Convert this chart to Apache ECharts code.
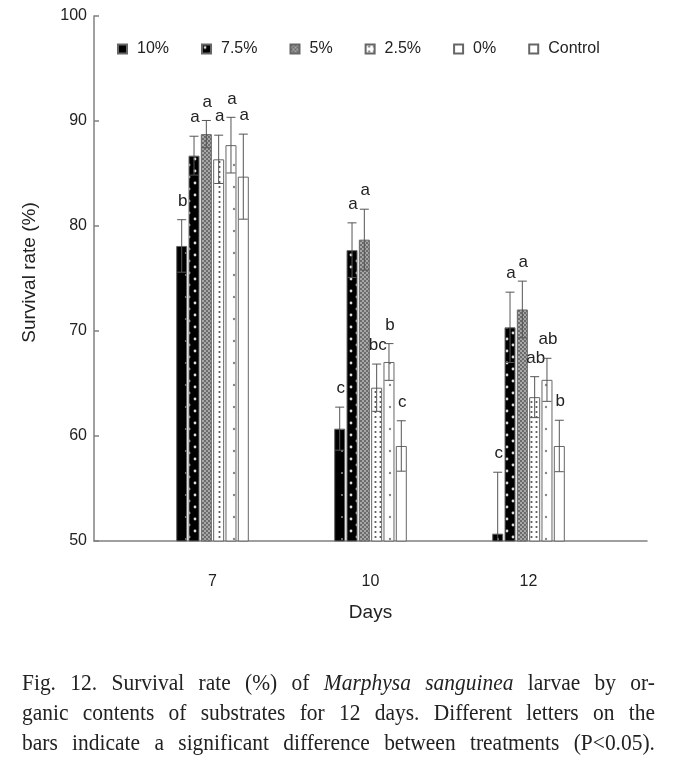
<!DOCTYPE html>
<html>
<head>
<meta charset="utf-8">
<script src="https://cdn.jsdelivr.net/npm/echarts@6/dist/echarts.min.js"></script>
<style>
  html, body { margin: 0; padding: 0; background: #fff; }
  #wrap { position: relative; width: 674px; height: 767px; overflow: hidden; }
  #chart { position: absolute; left: 0; top: 0; width: 674px; height: 767px; }
  #caption { position: absolute; left: 22px; top: 667px; width: 708px;
    transform: scaleX(0.894); transform-origin: 0 0;
    font-family: 'Liberation Serif', 'Times New Roman', serif; font-size: 24px; line-height: 30px; color: #222; }
  #caption div { text-align: justify; text-align-last: justify; white-space: nowrap; }
</style>
</head>
<body>
<div id="wrap">
  <div id="chart"></div>
  <div id="caption">
    <div>Fig. 12. Survival rate (%) of <i>Marphysa sanguinea</i> larvae by or-</div>
    <div>ganic contents of substrates for 12 days. Different letters on the</div>
    <div>bars indicate a significant difference between treatments (P&lt;0.05).</div>
  </div>
</div>
<script>
// ---- data ----
const categories = ['7', '10', '12'];
const categoryPositions = [1, 2, 3];
const treatments = ['10%', '7.5%', '5%', '2.5%', '0%', 'Control'];

const values10 = [78.1, 60.7, 50.7];
const values75 = [86.7, 77.7, 70.35];
const values5 = [88.75, 78.7, 72.05];
const values25 = [86.35, 64.6, 63.7];
const values0 = [87.7, 67.05, 65.35];
const valuesControl = [84.7, 59.05, 59.05];

const err10 = [2.5, 2.05, 5.85];
const err75 = [1.85, 2.6, 3.35];
const err5 = [1.3, 2.9, 2.7];
const err25 = [2.3, 2.25, 1.95];
const err0 = [2.65, 1.75, 2.05];
const errControl = [4.05, 2.4, 2.45];

const letters10 = ['b', 'c', 'c'];
const letters75 = ['a', 'a', 'a'];
const letters5 = ['a', 'a', 'a'];
const letters25 = ['a', 'bc', 'ab'];
const letters0 = ['a', 'b', 'ab'];
const lettersControl = ['a', 'c', 'b'];

const yTicks = [50, 60, 70, 80, 90, 100];

const allValues = [values10, values75, values5, values25, values0, valuesControl];
const allErrs = [err10, err75, err5, err25, err0, errControl];
const allLetters = [letters10, letters75, letters5, letters25, letters0, lettersControl];

// ---- patterns ----
function tile(w, h, bg, draw) {
  const c = document.createElement('canvas');
  c.width = w; c.height = h;
  const g = c.getContext('2d');
  g.fillStyle = bg; g.fillRect(0, 0, w, h);
  draw(g);
  return c;
}
function dot(g, x, y, r, col) { g.fillStyle = col; g.beginPath(); g.arc(x, y, r, 0, Math.PI * 2); g.fill(); }
const pat = [
  tile(12, 22, '#000', g => dot(g, 6, 11, 1.1, '#8a8a8a')),
  tile(12, 12, '#000', g => { dot(g, 3, 3, 1.4, '#dcdcdc'); dot(g, 9, 9, 1.4, '#dcdcdc'); }),
  tile(4, 4, '#9a9a9a', g => { dot(g, 1, 1, 0.9, '#555'); dot(g, 3, 3, 0.9, '#555'); g.fillStyle = '#d0d0d0'; g.fillRect(2.5, 0.5, 1, 1); g.fillRect(0.5, 2.5, 1, 1); }),
  tile(12, 5, '#fff', g => { dot(g, 3.5, 2, 1.1, '#555'); dot(g, 8.5, 2, 1.1, '#555'); }),
  tile(12, 22, '#fff', g => dot(g, 6, 11, 1.2, '#888')),
  null
];

const BAR_W = 11, BAR_GAP = 0.12;
const step = BAR_W * (1 + BAR_GAP);

const barSeries = treatments.map((name, i) => ({
  name,
  type: 'bar',
  barWidth: BAR_W,
  barGap: (BAR_GAP * 100) + '%',
  z: 2,
  data: allValues[i].map((v, j) => [categoryPositions[j], v]),
  itemStyle: {
    color: pat[i] ? { image: pat[i], repeat: 'repeat' } : '#fff',
    borderColor: '#666',
    borderWidth: 1
  }
}));

const errSeries = treatments.map((name, i) => ({
  name: name + ' err',
  type: 'custom',
  z: 5,
  data: allValues[i].map((v, j) => [categoryPositions[j], v, allErrs[i][j]]),
  renderItem: function (params, api) {
    const x = api.value(0), v = api.value(1), e = api.value(2);
    const low = Math.max(50, v - e);
    const top = api.coord([x, v + e]);
    const bot = api.coord([x, low]);
    const px = top[0] + (i - 2.5) * step;
    const cap = 4.5;
    const style = { stroke: '#555', lineWidth: 1 };
    const children = [
      { type: 'line', shape: { x1: px, y1: top[1], x2: px, y2: bot[1] }, style },
      { type: 'line', shape: { x1: px - cap, y1: top[1], x2: px + cap, y2: top[1] }, style }
    ];
    if (v - e > 50) {
      children.push({ type: 'line', shape: { x1: px - cap, y1: bot[1], x2: px + cap, y2: bot[1] }, style });
    }
    children.push({
      type: 'text',
      style: {
        x: px + 1, y: top[1] - 10,
        text: allLetters[i][params.dataIndex],
        fill: '#222',
        font: '17px "Liberation Sans", Arial, sans-serif',
        align: 'center', verticalAlign: 'bottom'
      }
    });
    return { type: 'group', children };
  }
}));

const chart = echarts.init(document.getElementById('chart'), null, { renderer: 'canvas' });
chart.setOption({
  animation: false,
  textStyle: { fontFamily: '"Liberation Sans", Arial, sans-serif' },
  grid: { left: 94, right: 27, top: 16, bottom: 226, containLabel: false },
  legend: {
    data: treatments,
    left: 112, top: 36,
    itemWidth: 9, itemHeight: 9, itemGap: 32,
    icon: 'rect',
    textStyle: { fontSize: 16, color: '#222', padding: [0, 0, 0, 5] },
    selectedMode: false
  },
  xAxis: {
    type: 'value', min: 0.25, max: 3.75,
    name: 'Days', nameLocation: 'middle', nameGap: 62,
    nameTextStyle: { fontSize: 19, color: '#222' },
    axisLine: { show: true, lineStyle: { color: '#808080', width: 1.5 } },
    axisTick: { show: false },
    splitLine: { show: false },
    axisLabel: {
      customValues: categoryPositions,
      formatter: v => categories[categoryPositions.indexOf(Math.round(v))] || '',
      fontSize: 16, color: '#222', margin: 33
    }
  },
  yAxis: {
    type: 'value', min: yTicks[0], max: yTicks[yTicks.length - 1], interval: 10,
    name: 'Survival rate (%)', nameLocation: 'middle', nameGap: 55,
    nameTextStyle: { fontSize: 19, color: '#222', padding: [0, 0, 0, 12] },
    axisLine: { show: true, lineStyle: { color: '#808080', width: 1.5 } },
    axisTick: { show: true, inside: true, length: 5, lineStyle: { color: '#808080', width: 1.5 } },
    splitLine: { show: false },
    axisLabel: { fontSize: 16, color: '#222', margin: 7 }
  },
  series: barSeries.concat(errSeries)
});
</script>
</body>
</html>
